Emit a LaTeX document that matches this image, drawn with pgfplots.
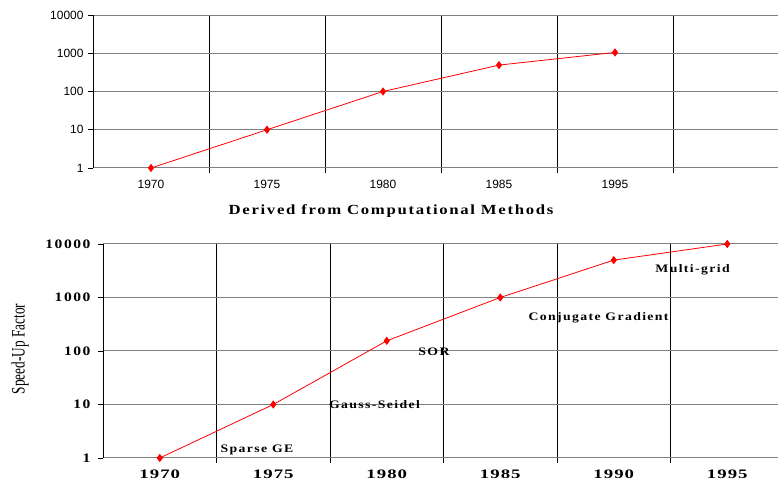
\documentclass[border=0pt]{standalone}
\usepackage{pgfplots}
\pgfplotsset{compat=1.18}
\usepackage{fontspec}
\setmainfont{Liberation Serif}
\newfontfamily\arial{Liberation Sans}
\newfontfamily\wideb[FakeStretch=1.2,LetterSpace=12]{Liberation Serif}
\newfontfamily\widex[FakeStretch=1.45,LetterSpace=8]{Liberation Serif}
\newfontfamily\narrow[FakeStretch=0.7]{Liberation Serif}
\definecolor{gridgray}{RGB}{128,128,128}
\definecolor{linered}{RGB}{255,0,0}
\begin{document}
\begin{tikzpicture}
% top panel
\begin{axis}[
  scale only axis, ymode=log, ymin=1, ymax=10000,
  xmin=-0.5, xmax=5.5,
  ytick={1,10,100,1000,10000},
  yticklabels={1,10,100,1000,10000},
  minor ytick={1,10,100,1000,10000},
  axis x line*=bottom, axis y line*=left,
  axis line style={-},
  x axis line style={draw=gridgray, line width=1bp},
  y axis line style={draw=black, line width=0.8bp},
  minor xtick={0.5,1.5,2.5,3.5,4.5},
  xminorgrids, ymajorgrids,
  minor x grid style={black, line width=0.8bp},
  y grid style={gridgray, line width=1bp},
  tick align=outside, major tick length=0pt, minor tick length=5bp,
  tick style={black, line width=0.8bp},
  clip=false,
  at={(93bp,317bp)}, anchor=south west,
  width=696bp, height=153bp,
  xtick={0,1,2,3,4},
  xticklabels={1970,1975,1980,1985,1995},
  ticklabel style={font=\arial\fontsize{12}{14}\selectfont},
  xticklabel style={yshift=-9bp},
  yticklabel style={xshift=-6bp},
]
\addplot[linered, line width=0.8bp, mark=diamond*, mark size=3.5bp, mark options={fill=linered, draw=linered}]
  coordinates {(0,1) (1,10) (2,100) (3,490) (4,1050)};
\end{axis}
\node[font=\wideb\bfseries\fontsize{14}{16}\selectfont] at (391bp,274bp) {Derived from Computational Methods};
% bottom panel
\begin{axis}[
  scale only axis, ymode=log, ymin=1, ymax=10000,
  xmin=-0.5, xmax=5.5,
  ytick={1,10,100,1000,10000},
  yticklabels={1,10,100,1000,10000},
  minor ytick={1,10,100,1000,10000},
  axis x line*=bottom, axis y line*=left,
  axis line style={-},
  x axis line style={draw=gridgray, line width=1bp},
  y axis line style={draw=black, line width=0.8bp},
  minor xtick={0.5,1.5,2.5,3.5,4.5},
  xminorgrids, ymajorgrids,
  minor x grid style={black, line width=0.8bp},
  y grid style={gridgray, line width=1bp},
  tick align=outside, major tick length=0pt, minor tick length=5bp,
  tick style={black, line width=0.8bp},
  clip=false,
  at={(103bp,27bp)}, anchor=south west,
  width=681bp, height=214bp,
  xtick={0,1,2,3,4,5},
  xticklabels={1970,1975,1980,1985,1990,1995},
  yticklabel style={font=\wideb\bfseries\fontsize{13}{15}\selectfont, xshift=-9bp},
  xticklabel style={font=\widex\bfseries\fontsize{13}{15}\selectfont, yshift=-8bp},
]
\addplot[linered, line width=0.8bp, mark=diamond*, mark size=3.5bp, mark options={fill=linered, draw=linered}]
  coordinates {(0,1) (1,10) (2,155) (3,1000) (4,5000) (5,10000)};
\node[font=\wideb\bfseries\fontsize{11.5}{13}\selectfont] at (axis cs:0.857,1.41) {Sparse GE};
\node[font=\wideb\bfseries\fontsize{11.5}{13}\selectfont] at (axis cs:1.892,9.8) {Gauss-Seidel};
\node[font=\wideb\bfseries\fontsize{11.5}{13}\selectfont] at (axis cs:2.416,96) {SOR};
\node[font=\wideb\bfseries\fontsize{11.5}{13}\selectfont] at (axis cs:3.866,414) {Conjugate Gradient};
\node[font=\wideb\bfseries\fontsize{11.5}{13}\selectfont] at (axis cs:4.694,3266) {Multi-grid};
\end{axis}
\node[rotate=90, font=\narrow\fontsize{19}{21}\selectfont] at (20bp,136bp) {Speed-Up Factor};
\pgfresetboundingbox
\path[use as bounding box] (0bp,0bp) rectangle (778bp,485bp);
\end{tikzpicture}
\end{document}
